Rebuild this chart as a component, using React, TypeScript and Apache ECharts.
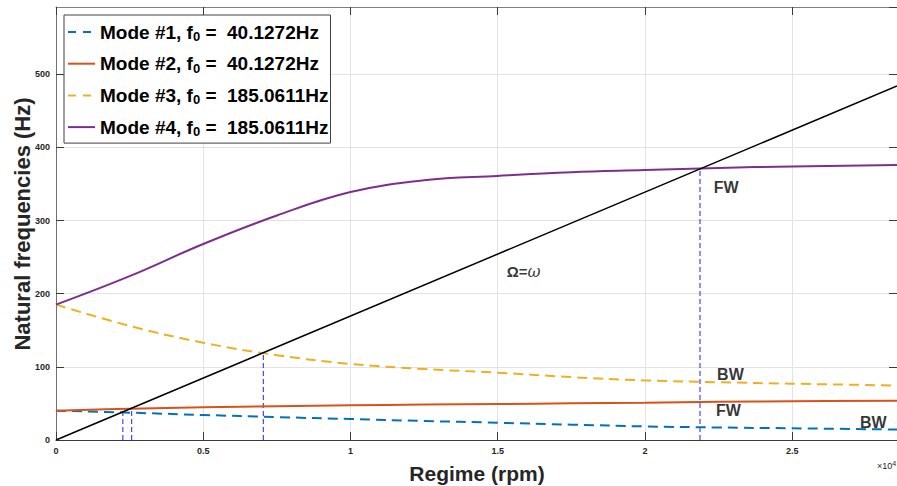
import React, { useEffect, useRef } from "react";
import * as echarts from "echarts";

// Regime (rpm)
const rpm = [0, 2500, 5000, 7500, 10000, 12500, 15000, 17500, 20000, 22500, 25000, 28560];
// Natural frequencies (Hz)
const mode1 = [40.13, 37.4, 34.2, 31.3, 28.7, 26.0, 23.6, 21.0, 18.6, 17.1, 16.0, 14.3];
const mode2 = [40.13, 42.7, 44.7, 46.2, 47.4, 48.4, 49.2, 50.1, 51.0, 52.2, 53.0, 53.8];
const mode3 = [185.06, 156.0, 133.0, 116.0, 104.0, 97.0, 92.0, 86.0, 81.5, 79.0, 77.0, 74.5];
const mode4 = [185.06, 224.0, 268.0, 307.0, 339.0, 355.0, 361.0, 366.0, 369.0, 372.0, 374.0, 376.0];
// Ω = ω line end points
const omegaX = [0, 28560];
const omegaY = [0, 484];
// critical speed markers [rpm, frequency]
const critical = [
  [2270, 38.4],
  [2570, 43.5],
  [7040, 119],
  [21870, 370],
];
// annotations [rpm, frequency, text]
const annotations: [number, number, string][] = [
  [22340, 345, "FW"],
  [22450, 89, "BW"],
  [22410, 40, "FW"],
  [27300, 24, "BW"],
];
const legendNames = [
  "Mode #1, f0 =  40.1272Hz",
  "Mode #2, f0 =  40.1272Hz",
  "Mode #3, f0 =  185.0611Hz",
  "Mode #4, f0 =  185.0611Hz",
];
const colors = ["#0072BD", "#D95319", "#EDB120", "#7E2F8E"];

const FONT = "'Liberation Sans', Arial, Helvetica, sans-serif";

export default function App() {
  const ref = useRef<HTMLDivElement>(null);
  useEffect(() => {
    if (!ref.current) return;
    const chart = echarts.init(ref.current, undefined, { renderer: "svg" });
    const modes = [mode1, mode2, mode3, mode4];
    const modeSeries = modes.map((m, i) => ({
      name: legendNames[i],
      type: "line",
      data: rpm.map((x, j) => [x, m[j]]),
      symbol: "none",
      smooth: 0.4,
      lineStyle: {
        color: colors[i],
        width: 2,
        type: i % 2 === 0 ? [10, 6] : "solid",
      },
      itemStyle: { color: colors[i] },
      z: 3,
    }));
    const critSeries = critical.map((c) => ({
      type: "line",
      data: [
        [c[0], 0],
        [c[0], c[1]],
      ],
      symbol: "none",
      lineStyle: { color: "#1f1fff", width: 1, type: [5, 3] },
      z: 2,
      silent: true,
    }));
    const option: any = {
      animation: false,
      textStyle: { fontFamily: FONT },
      grid: { left: 56, right: 0, top: 7, bottom: 46, containLabel: false },
      xAxis: [
        {
          type: "value",
          min: 0,
          max: 28560,
          interval: 5000,
          axisLine: { show: true, onZero: false, lineStyle: { color: "#3a3a3a", width: 1 } },
          axisTick: { show: true, inside: true, length: 8, lineStyle: { color: "#3a3a3a" } },
          axisLabel: {
            formatter: (v: number) => (v === 0 ? "0" : String(v / 10000)),
            showMaxLabel: false,
            fontSize: 9,
            fontWeight: "bold",
            color: "#262626",
            margin: 6,
            fontFamily: FONT,
          },
          splitLine: { show: true, lineStyle: { color: "#e3e3e3", width: 1 } },
        },
        {
          type: "value",
          position: "top",
          min: 0,
          max: 28560,
          interval: 5000,
          axisLine: { show: true, onZero: false, lineStyle: { color: "#808080", width: 1 } },
          axisTick: { show: true, inside: true, length: 8, lineStyle: { color: "#3a3a3a" } },
          axisLabel: { show: false },
          splitLine: { show: false },
        },
      ],
      yAxis: [
        {
          type: "value",
          min: 0,
          max: 592,
          interval: 100,
          axisLine: { show: true, onZero: false, lineStyle: { color: "#707070", width: 1 } },
          axisTick: { show: true, inside: true, length: 8, lineStyle: { color: "#3a3a3a" } },
          axisLabel: {
            showMaxLabel: false,
            fontSize: 9,
            fontWeight: "bold",
            color: "#262626",
            margin: 6,
            fontFamily: FONT,
          },
          splitLine: { show: true, lineStyle: { color: "#e3e3e3", width: 1 } },
        },
        {
          type: "value",
          position: "right",
          min: 0,
          max: 592,
          interval: 100,
          axisLine: { show: true, onZero: false, lineStyle: { color: "#808080", width: 1 } },
          axisTick: { show: true, inside: true, length: 8, lineStyle: { color: "#3a3a3a" } },
          axisLabel: { show: false },
          splitLine: { show: false },
        },
      ],
      legend: {
        data: legendNames.map((n, i) => ({
          name: n,
          itemStyle: { opacity: 0 },
          lineStyle: { color: colors[i], width: 2, type: i % 2 === 0 ? [8, 7] : "solid" },
        })),
        orient: "vertical",
        left: 64,
        top: 15,
        backgroundColor: "#ffffff",
        borderColor: "#404040",
        borderWidth: 1,
        borderRadius: 0,
        padding: [5, 2, 5, 3],
        itemWidth: 27,
        itemHeight: 14,
        itemGap: 8.7,
        textStyle: {
          fontFamily: FONT,
          rich: {
            a: { fontSize: 19, fontWeight: "bold", color: "#000", lineHeight: 22, fontFamily: FONT },
            s: {
              fontSize: 13,
              fontWeight: "bold",
              color: "#000",
              lineHeight: 22,
              verticalAlign: "bottom",
              padding: [10, 0, 0, 0],
              fontFamily: FONT,
            },
          },
        },
        formatter: (name: string) => {
          const [pre, post] = name.split("f0");
          return `{a|${pre}f}{s|0}{a|${post}}`;
        },
        z: 10,
      },
      series: [
        ...critSeries,
        {
          type: "line",
          data: omegaX.map((x, i) => [x, omegaY[i]]),
          symbol: "none",
          lineStyle: { color: "#000", width: 1.5 },
          z: 4,
          silent: true,
        },
        ...modeSeries,
        {
          type: "scatter",
          data: annotations.map((a) => ({ value: [a[0], a[1]], label: { formatter: a[2] } })),
          symbolSize: 0,
          silent: true,
          label: {
            show: true,
            position: "right",
            distance: 0,
            fontSize: 16,
            fontWeight: "bold",
            color: "#000",
            fontFamily: FONT,
          },
          z: 5,
        },
        {
          type: "scatter",
          data: [[15310, 230]],
          symbolSize: 0,
          silent: true,
          label: {
            show: true,
            position: "right",
            distance: 0,
            formatter: "{a|Ω=}{w|ω}",
            rich: {
              a: { fontSize: 15, fontWeight: "bold", color: "#000", fontFamily: FONT },
              w: { fontSize: 16, fontStyle: "italic", color: "#000", fontFamily: "'DejaVu Serif', serif" },
            },
          },
          z: 5,
        },
      ],
      graphic: [
        {
          type: "text",
          x: 22,
          y: 224,
          rotation: Math.PI / 2,
          style: {
            text: "Natural frequencies (Hz)",
            fontSize: 22,
            fontWeight: "bold",
            fill: "#262626",
            fontFamily: FONT,
            align: "center",
            verticalAlign: "middle",
          },
        },
        {
          type: "text",
          x: 477,
          y: 473,
          style: {
            text: "Regime (rpm)",
            fontSize: 21,
            fontWeight: "bold",
            fill: "#262626",
            fontFamily: FONT,
            align: "center",
            verticalAlign: "middle",
          },
        },
        {
          type: "text",
          x: 877,
          y: 466,
          style: {
            text: "×10{s|4}",
            fontSize: 9,
            fill: "#262626",
            fontFamily: FONT,
            verticalAlign: "middle",
            rich: { s: { fontSize: 7, verticalAlign: "top", fill: "#262626", padding: [0, 0, 6, 0] } },
          },
        },
      ],
    };
    chart.setOption(option);
    return () => chart.dispose();
  }, []);
  return (
    <div
      ref={ref}
      style={{ position: "absolute", left: 0, top: 0, width: 897, height: 486 }}
    />
  );
}
